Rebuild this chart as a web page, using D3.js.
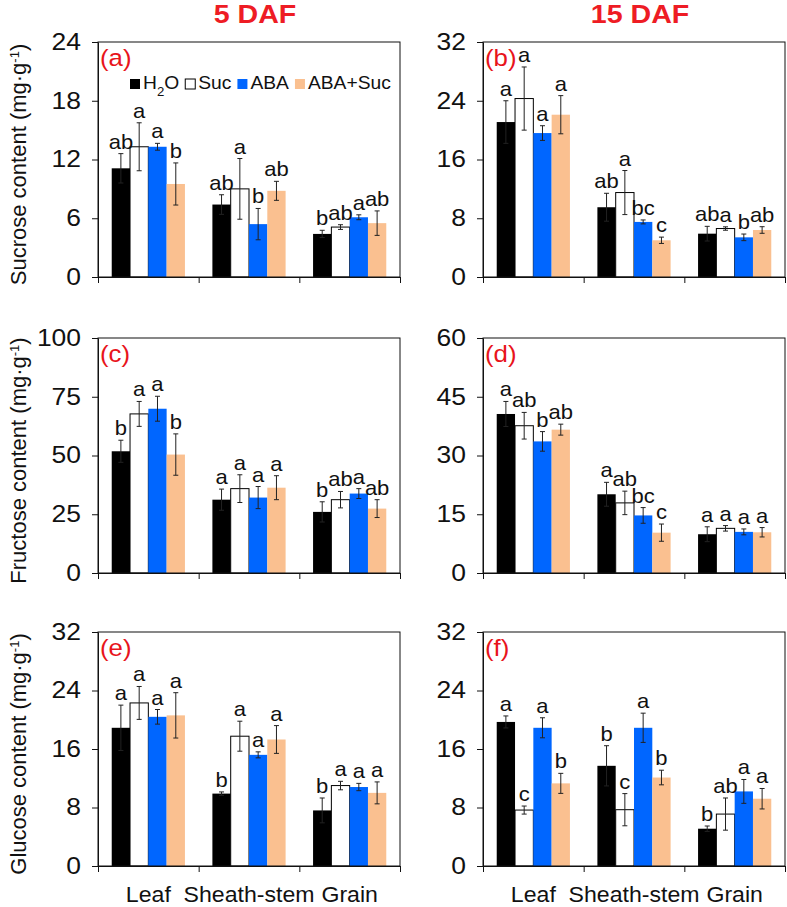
<!DOCTYPE html>
<html>
<head>
<meta charset="utf-8">
<script src="https://cdn.jsdelivr.net/npm/d3@7"></script>
<style>
  body { margin: 0; background: #fff; }
  text { font-family: "Liberation Sans", Arial, sans-serif; }
</style>
</head>
<body>
<svg id="chart" width="787" height="907"></svg>
<script>
// categories and treatments
var cats = ["Leaf", "Sheath-stem", "Grain"];
var series = ["H2O", "Suc", "ABA", "ABA+Suc"];

// means per category, one value per treatment (mg/g)
var sucrose5Mean = [[11.1, 13.3, 13.3, 9.5], [7.4, 9.0, 5.4, 8.8], [4.4, 5.1, 6.1, 5.5]];
var sucrose5Err = [[1.5, 2.45, 0.35, 2.15], [1.0, 3.1, 1.6, 0.97], [0.37, 0.24, 0.25, 1.25]];
var sucrose5Sig = [["ab", "a", "a", "b"], ["ab", "a", "b", "ab"], ["b", "ab", "a", "ab"]];

var sucrose15Mean = [[21.1, 24.3, 19.6, 22.1], [9.5, 11.5, 7.5, 5.0], [5.9, 6.6, 5.4, 6.4]];
var sucrose15Err = [[2.9, 4.3, 1.0, 2.6], [1.9, 3.0, 0.27, 0.43], [1.0, 0.23, 0.45, 0.45]];
var sucrose15Sig = [["a", "a", "a", "a"], ["ab", "a", "bc", "c"], ["ab", "a", "b", "ab"]];

var fructose5Mean = [[51.8, 67.7, 69.9, 50.4], [31.2, 35.9, 32.1, 36.3], [26.0, 31.2, 33.8, 27.4]];
var fructose5Err = [[4.7, 5.3, 5.3, 8.8], [4.5, 5.9, 4.7, 5.1], [4.3, 3.5, 2.1, 3.8]];
var fructose5Sig = [["b", "a", "a", "b"], ["a", "a", "a", "a"], ["b", "ab", "a", "ab"]];

var fructose15Mean = [[40.6, 37.6, 33.6, 36.6], [20.1, 17.9, 14.7, 10.3], [9.9, 11.4, 10.5, 10.4]];
var fructose15Err = [[3.2, 3.4, 2.5, 1.4], [3.05, 3.0, 2.0, 2.2], [1.9, 0.7, 0.75, 1.2]];
var fructose15Sig = [["a", "ab", "b", "ab"], ["a", "ab", "bc", "c"], ["a", "a", "a", "a"]];

var glucose5Mean = [[18.9, 22.3, 20.4, 20.6], [9.9, 17.75, 15.2, 17.3], [7.6, 11.0, 10.8, 10.0]];
var glucose5Err = [[3.1, 2.25, 1.0, 3.1], [0.23, 2.05, 0.41, 1.9], [1.7, 0.58, 0.5, 1.5]];
var glucose5Sig = [["a", "a", "a", "a"], ["b", "a", "a", "a"], ["b", "a", "a", "a"]];

var glucose15Mean = [[19.7, 7.65, 18.9, 11.3], [13.7, 7.7, 18.9, 12.1], [5.1, 7.1, 10.2, 9.2]];
var glucose15Err = [[0.82, 0.55, 1.37, 1.37], [2.75, 2.2, 2.0, 1.0], [0.37, 2.2, 1.63, 1.4]];
var glucose15Sig = [["a", "c", "a", "b"], ["b", "c", "a", "b"], ["b", "ab", "a", "a"]];

// y tick labels
var sucrose5Ticks = [0, 6, 12, 18, 24];
var sucrose15Ticks = [0, 8, 16, 24, 32];
var fructose5Ticks = [0, 25, 50, 75, 100];
var fructose15Ticks = [0, 15, 30, 45, 60];
var glucoseTicks = [0, 8, 16, 24, 32];

var columnTitles = ["5 DAF", "15 DAF"];
var rowTitles = ["Sucrose", "Fructose", "Glucose"];

var colors = ["#000000", "#ffffff", "#0066ff", "#fac090"];
var SX = 1.1; // the original figure is a bit wider than the font

var svg = d3.select("#chart");
svg.append("rect").attr("width", 787).attr("height", 907).attr("fill", "#fff");

var colLeft = [98, 483], colRight = [400, 785];
var rowTop = [42, 338, 632], rowBottom = [277, 573, 866];

var panels = [
  {tag: "(a)", mean: sucrose5Mean, err: sucrose5Err, sig: sucrose5Sig, ticks: sucrose5Ticks, row: 0, col: 0},
  {tag: "(b)", mean: sucrose15Mean, err: sucrose15Err, sig: sucrose15Sig, ticks: sucrose15Ticks, row: 0, col: 1},
  {tag: "(c)", mean: fructose5Mean, err: fructose5Err, sig: fructose5Sig, ticks: fructose5Ticks, row: 1, col: 0},
  {tag: "(d)", mean: fructose15Mean, err: fructose15Err, sig: fructose15Sig, ticks: fructose15Ticks, row: 1, col: 1},
  {tag: "(e)", mean: glucose5Mean, err: glucose5Err, sig: glucose5Sig, ticks: glucoseTicks, row: 2, col: 0},
  {tag: "(f)", mean: glucose15Mean, err: glucose15Err, sig: glucose15Sig, ticks: glucoseTicks, row: 2, col: 1}
];

// put text at its x/y and widen it horizontally
function stretch(sel, k) {
  k = k || SX;
  sel.each(function() {
    var t = d3.select(this);
    var x = +t.attr("x") || 0, y = +t.attr("y") || 0;
    t.attr("x", null).attr("y", null)
      .attr("transform", "translate(" + x + "," + y + ") scale(" + k + ",1)");
  });
}

panels.forEach(function(p) {
  var left = colLeft[p.col], right = colRight[p.col];
  var top = rowTop[p.row], bottom = rowBottom[p.row];

  var x0 = d3.scaleBand().domain(cats).range([left, right]).padding(0);
  var x1 = d3.scaleBand().domain(series).range([0, x0.bandwidth()])
    .paddingInner(0).paddingOuter(0.75);
  var xi = d3.scaleLinear().domain([0, cats.length]).range([left, right]);
  var y = d3.scaleLinear().domain([0, d3.max(p.ticks)]).range([bottom, top]);

  var g = svg.append("g");

  // bars
  p.mean.forEach(function(vals, ci) {
    vals.forEach(function(v, si) {
      var bx = x0(cats[ci]) + x1(series[si]);
      g.append("rect")
        .attr("x", bx)
        .attr("y", y(v))
        .attr("width", x1.bandwidth())
        .attr("height", y(0) - y(v))
        .attr("fill", colors[si])
        .attr("stroke", si === 1 ? "#000" : "none")
        .attr("stroke-width", 1);
    });
  });

  // error bars and letters
  p.mean.forEach(function(vals, ci) {
    vals.forEach(function(v, si) {
      var cx = x0(cats[ci]) + x1(series[si]) + x1.bandwidth() / 2;
      var e = p.err[ci][si];
      var y1 = y(v + e), y2 = y(v - e);
      g.append("line").attr("x1", cx).attr("x2", cx).attr("y1", y1).attr("y2", y2)
        .attr("stroke", "#222").attr("stroke-width", 1);
      [y1, y2].forEach(function(yy) {
        g.append("line").attr("x1", cx - 2.5).attr("x2", cx + 2.5).attr("y1", yy).attr("y2", yy)
          .attr("stroke", "#222").attr("stroke-width", 1);
      });
      g.append("text")
        .attr("x", cx).attr("y", y1 - 5)
        .attr("text-anchor", "middle")
        .attr("font-size", 20)
        .attr("fill", "#111")
        .text(p.sig[ci][si])
        .call(stretch);
    });
  });

  // frame
  g.append("rect")
    .attr("x", left).attr("y", top)
    .attr("width", right - left).attr("height", bottom - top)
    .attr("fill", "none").attr("stroke", "#111").attr("stroke-width", 1);

  // y axis
  var ya = g.append("g")
    .attr("transform", "translate(" + left + ",0)")
    .call(d3.axisLeft(y).tickValues(p.ticks).tickSize(6).tickSizeOuter(0).tickPadding(11));
  ya.select(".domain").attr("stroke", "#111");
  ya.selectAll(".tick line").attr("stroke", "#111");
  ya.selectAll("text").attr("font-size", 23).attr("fill", "#111")
    .attr("font-family", "'Liberation Sans', Arial, sans-serif").call(stretch, 1.15);

  // x axis with ticks between categories
  var xa = g.append("g")
    .attr("transform", "translate(0," + bottom + ")")
    .call(d3.axisBottom(xi).tickValues(d3.range(cats.length + 1)).tickFormat("").tickSize(6).tickSizeOuter(0));
  xa.select(".domain").attr("stroke", "#111");
  xa.selectAll(".tick line").attr("stroke", "#111");

  // panel tag
  g.append("text")
    .attr("x", left + 2).attr("y", top + 24)
    .attr("font-size", 23.5)
    .attr("fill", "#e8141b")
    .text(p.tag)
    .call(stretch);

  // column title
  if (p.row === 0) {
    g.append("text")
      .attr("x", (left + right) / 2 + 6).attr("y", 23)
      .attr("text-anchor", "middle")
      .attr("font-size", 26)
      .attr("font-weight", "bold")
      .attr("fill", "#ee1c24")
      .text(columnTitles[p.col])
      .call(stretch);
  }

  // y title
  if (p.col === 0) {
    var yt = g.append("text")
      .attr("transform", "translate(26," + ((top + bottom) / 2 + 5) + ") rotate(-90)")
      .attr("text-anchor", "middle")
      .attr("font-size", 22)
      .attr("fill", "#111");
    yt.append("tspan").text(rowTitles[p.row] + " content (mg\u00b7g");
    yt.append("tspan").attr("baseline-shift", "super").attr("font-size", 13).text("-1");
    yt.append("tspan").text(")");
  }

  // category labels under the bottom row
  if (p.row === 2) {
    cats.forEach(function(c) {
      g.append("text")
        .attr("x", x0(c) + x0.bandwidth() / 2)
        .attr("y", bottom + 36)
        .attr("text-anchor", "middle")
        .attr("font-size", 22)
        .attr("fill", "#111")
        .text(c)
        .call(stretch, 1.05);
    });
  }

  // legend inside panel (a)
  if (p.row === 0 && p.col === 0) {
    var cursor = left + 32;
    var ly = top + 47;
    series.forEach(function(s, si) {
      g.append("rect")
        .attr("x", cursor).attr("y", ly - 10)
        .attr("width", 10).attr("height", 10)
        .attr("fill", colors[si])
        .attr("stroke", si === 1 ? "#000" : "none");
      var t = g.append("text")
        .attr("x", cursor + 13).attr("y", ly)
        .attr("font-size", 17.5)
        .attr("fill", "#111");
      if (s === "H2O") {
        t.append("tspan").text("H");
        t.append("tspan").attr("baseline-shift", "sub").attr("font-size", 12).text("2");
        t.append("tspan").text("O");
      } else {
        t.text(s);
      }
      var w = t.node().getComputedTextLength();
      t.call(stretch);
      cursor += 13 + w * SX + 6;
    });
  }
});
</script>
</body>
</html>
